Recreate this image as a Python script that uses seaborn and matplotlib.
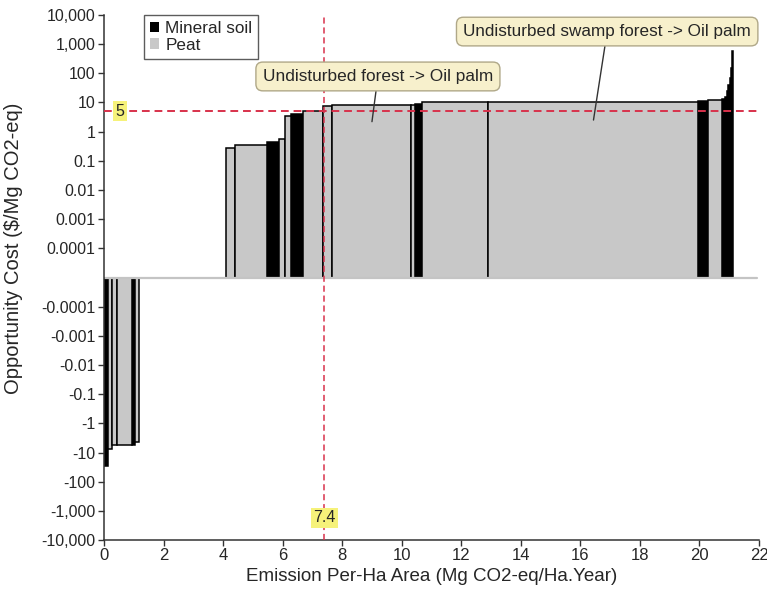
import matplotlib
matplotlib.use("Agg")
import matplotlib.pyplot as plt
import numpy as np
import pandas as pd
import seaborn as sns
from matplotlib.patches import Patch

# bars of the cost curve (x in Mg CO2-eq/Ha.Year, cost in $/Mg CO2-eq)
bar_left = [0.00, 0.14, 0.28, 0.43, 0.95, 1.04,
            4.11, 4.39, 5.47, 5.88, 6.08, 6.27, 6.68, 7.37, 7.65,
            10.30, 10.45, 10.68, 12.91, 19.96, 20.30,
            20.75, 20.85, 20.92, 20.97, 21.02, 21.06, 21.09]
bar_width = [0.14, 0.14, 0.15, 0.52, 0.09, 0.15,
             0.28, 1.08, 0.41, 0.20, 0.19, 0.41, 0.69, 0.28, 2.65,
             0.15, 0.23, 2.23, 7.05, 0.34, 0.45,
             0.10, 0.07, 0.05, 0.05, 0.04, 0.03, 0.03]
cost = [-28, -7.7, -5.5, -5.5, -5.5, -4.2,
        0.27, 0.36, 0.44, 0.55, 3.4, 3.9, 5.2, 7.6, 8.0,
        8.3, 9.0, 10.1, 10.3, 11.5, 12.3,
        13, 16, 24, 40, 70, 150, 600]
soil = ["Mineral soil", "Peat", "Peat", "Peat", "Mineral soil", "Peat",
        "Peat", "Peat", "Mineral soil", "Peat", "Peat", "Mineral soil", "Peat", "Peat", "Peat",
        "Peat", "Mineral soil", "Peat", "Peat", "Mineral soil", "Peat",
        "Mineral soil", "Mineral soil", "Mineral soil", "Mineral soil",
        "Mineral soil", "Mineral soil", "Mineral soil"]

ytick_values = [10000, 1000, 100, 10, 1, 0.1, 0.01, 0.001, 0.0001,
                -0.0001, -0.001, -0.01, -0.1, -1, -10, -100, -1000, -10000]
ytick_labels = ["10,000", "1,000", "100", "10", "1", "0.1", "0.01", "0.001", "0.0001",
                "-0.0001", "-0.001", "-0.01", "-0.1", "-1", "-10", "-100", "-1,000", "-10,000"]
xtick_values = list(range(0, 23, 2))

cost_threshold = 5
emission_threshold = 7.4

soil_colors = {"Mineral soil": "black", "Peat": "#c8c8c8"}

df = pd.DataFrame({"left": bar_left, "width": bar_width, "cost": cost, "soil": soil})


# signed log scale: one decade per unit, +-0.0001 sits one unit away from zero
def fwd(y):
    y = np.asarray(y, dtype=float)
    a = np.abs(y)
    with np.errstate(divide="ignore", invalid="ignore"):
        return np.where(a <= 1e-4, y * 1e4, np.sign(y) * (np.log10(a) + 5))


def inv(t):
    t = np.asarray(t, dtype=float)
    a = np.abs(t)
    return np.where(a <= 1, t * 1e-4, np.sign(t) * 10 ** (a - 5))


sns.set_style("ticks")
plt.rcParams["font.family"] = ["Liberation Sans", "DejaVu Sans"]

fig = plt.figure(figsize=(7.67, 5.92), dpi=100)
ax = fig.add_axes([0.1356, 0.0878, 0.854, 0.8869])
ax.set_yscale("function", functions=(fwd, inv))

for name, group in df.groupby("soil"):
    ax.bar(group["left"], group["cost"], width=group["width"], align="edge",
           color=soil_colors[name], edgecolor="black", linewidth=1.1, zorder=2)

# zero line drawn over the bar bases
ax.axhline(0, xmin=0.002, xmax=0.997, color="#c4c4c4", linewidth=1.6, zorder=2.5)
ax.axhline(cost_threshold, color="#d8314b", linestyle=(0, (4, 2.5)), linewidth=1.4, zorder=3)
ax.axvline(emission_threshold, color="#d8314b", linestyle=(0, (4, 2.5)), linewidth=1.1, zorder=3)

ax.text(0.024, cost_threshold, "5", transform=ax.get_yaxis_transform(),
        ha="center", va="center", fontsize=11.5, zorder=4,
        bbox=dict(boxstyle="square,pad=0.15", facecolor="#f6f27a", edgecolor="none"))
ax.text(emission_threshold, 0.042, "7.4", transform=ax.get_xaxis_transform(),
        ha="center", va="center", fontsize=11.5, zorder=4,
        bbox=dict(boxstyle="square,pad=0.15", facecolor="#f6f27a", edgecolor="none"))

box = dict(boxstyle="round,pad=0.4", facecolor="#f7f0cc", edgecolor="#b0a888", linewidth=1)
ax.annotate("Undisturbed forest -> Oil palm", xy=(9.0, 2.2), xytext=(9.2, 78),
            ha="center", va="center", fontsize=12.4, bbox=box, zorder=5,
            arrowprops=dict(arrowstyle="-", color="#333333", linewidth=1, shrinkA=0, shrinkB=0))
ax.annotate("Undisturbed swamp forest -> Oil palm", xy=(16.44, 2.5), xytext=(16.9, 2700),
            ha="center", va="center", fontsize=12.3, bbox=box, zorder=5,
            arrowprops=dict(arrowstyle="-", color="#333333", linewidth=1, shrinkA=0, shrinkB=0))

ax.set_xlim(0, 22)
ax.set_ylim(-10000, 10000)
ax.set_xticks(xtick_values)
ax.set_yticks(ytick_values)
ax.set_yticklabels(ytick_labels)
ax.minorticks_off()
ax.tick_params(axis="both", direction="out", length=4, width=1, color="#333333")
ax.tick_params(axis="y", labelsize=11.5, pad=2)
ax.tick_params(axis="x", labelsize=12, pad=2)
for side in ["left", "bottom"]:
    ax.spines[side].set_linewidth(1.1)
    ax.spines[side].set_color("#333333")
sns.despine(ax=ax)

ax.set_xlabel("Emission Per-Ha Area (Mg CO2-eq/Ha.Year)", fontsize=13.5, labelpad=3)
ax.set_ylabel("Opportunity Cost ($/Mg CO2-eq)", fontsize=14.5)
ax.yaxis.set_label_coords(-0.124, 0.555)

handles = [Patch(facecolor=soil_colors[k], edgecolor="none") for k in ["Mineral soil", "Peat"]]
leg = ax.legend(handles, ["Mineral soil", "Peat"], loc="upper left",
                bbox_to_anchor=(0.061, 1.0), fontsize=12.3, frameon=True, fancybox=False,
                handlelength=0.55, handleheight=0.55, handletextpad=0.35,
                borderpad=0.35, labelspacing=0.1, borderaxespad=0)
leg.get_frame().set_edgecolor("#333333")
leg.get_frame().set_linewidth(1)

fig.savefig("out.png", dpi=100)
